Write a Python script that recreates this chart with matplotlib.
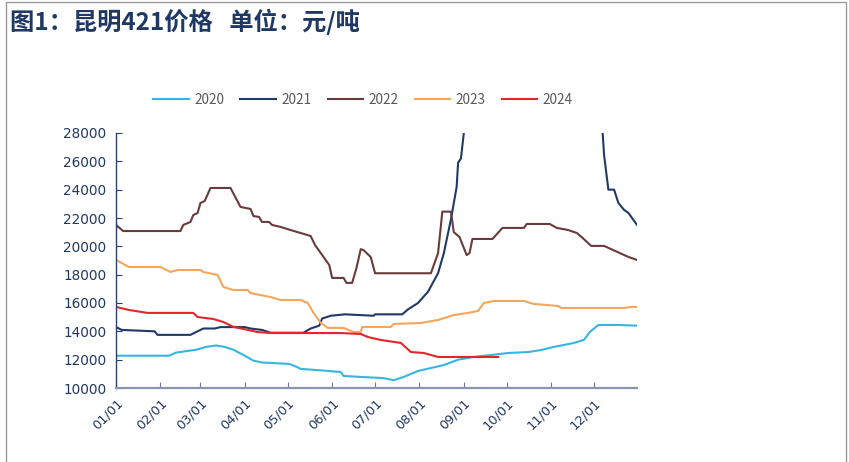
import matplotlib
matplotlib.use("Agg")
import matplotlib.pyplot as plt
import pandas as pd
from matplotlib.patches import Rectangle

plt.rcParams['font.family'] = ['Noto Sans CJK SC', 'DejaVu Sans']

TITLE = "图1：昆明421价格   单位：元/吨"
YEARS = ["2020", "2021", "2022", "2023", "2024"]
COLORS = ["#35B6E3", "#1F3A68", "#6B3A3A", "#F5A65B", "#E4262C"]

d2020 = ["01-01", "02-07", "02-12", "02-19", "02-26", "03-05", "03-12", "03-18", "03-24", "03-31",
         "04-07", "04-13", "05-02", "05-07", "05-10", "05-21", "06-07", "06-09", "06-21", "07-07",
         "07-14", "07-21", "07-31", "08-09", "08-18", "08-28", "09-08", "09-20", "10-02", "10-16",
         "10-25", "11-03", "11-17", "11-24", "11-28", "12-04", "12-18", "12-31"]
v2020 = [12280, 12280, 12500, 12600, 12700, 12900, 13000, 12900, 12700, 12330,
         11930, 11800, 11700, 11500, 11350, 11270, 11130, 10850, 10780, 10700,
         10550, 10780, 11200, 11410, 11620, 12000, 12190, 12330, 12470, 12540,
         12680, 12900, 13180, 13400, 13950, 14450, 14450, 14400]

d2021 = ["01-01", "01-05", "01-28", "01-30", "02-22", "02-25", "03-03", "03-11", "03-15", "04-01",
         "04-05", "04-13", "04-19", "05-12", "05-17", "05-23", "05-25", "05-31", "06-10", "06-30",
         "07-01", "07-20", "07-24", "07-31", "08-07", "08-14", "08-18", "08-23", "08-27", "08-28",
         "08-30", "09-01", "09-08", "09-15", "09-22", "09-28", "10-15", "10-25", "11-05", "11-20",
         "12-07", "12-08", "12-11", "12-15", "12-18", "12-22", "12-25", "12-31"]
v2021 = [14300, 14100, 14000, 13750, 13750, 13900, 14200, 14200, 14300, 14300,
         14200, 14100, 13900, 13900, 14200, 14400, 14900, 15100, 15200, 15100,
         15200, 15200, 15550, 16000, 16800, 18100, 19500, 21900, 24200, 25900,
         26200, 28000, 33000, 40000, 55000, 63000, 62000, 55000, 45000, 34000,
         28000, 26450, 24000, 24000, 23060, 22570, 22360, 21510]

d2022 = ["01-01", "01-06", "02-15", "02-17", "02-22", "02-24", "02-27", "03-01", "03-04", "03-08",
         "03-22", "03-29", "04-05", "04-07", "04-11", "04-13", "04-18", "04-20", "04-26", "05-03",
         "05-10", "05-17", "05-20", "05-26", "05-30", "06-01", "06-09", "06-11", "06-15", "06-18",
         "06-21", "06-23", "06-28", "07-01", "08-09", "08-14", "08-17", "08-23", "08-25", "08-29",
         "09-03", "09-05", "09-07", "09-21", "09-28", "10-13", "10-15", "10-31", "11-05", "11-13",
         "11-19", "11-23", "11-29", "12-08", "12-13", "12-25", "12-31"]
v2022 = [21510, 21080, 21080, 21510, 21720, 22210, 22350, 23060, 23200, 24120,
         24120, 22780, 22640, 22140, 22070, 21720, 21720, 21510, 21370, 21150,
         20940, 20730, 20100, 19250, 18680, 17770, 17770, 17420, 17420, 18470,
         19800, 19730, 19240, 18100, 18100, 19520, 22450, 22450, 21000, 20660,
         19380, 19520, 20520, 20520, 21300, 21300, 21580, 21580, 21300, 21150,
         20940, 20590, 20030, 20030, 19800, 19250, 19040]

d2023 = ["01-01", "01-10", "02-01", "02-08", "02-13", "03-01", "03-03", "03-13", "03-17", "03-24",
         "04-03", "04-05", "04-12", "04-19", "04-26", "05-10", "05-15", "05-19", "05-24", "05-29",
         "06-09", "06-16", "06-21", "06-22", "07-12", "07-14", "08-02", "08-14", "08-25", "09-04",
         "09-11", "09-15", "09-22", "10-13", "10-20", "11-06", "11-08", "12-22", "12-27", "12-31"]
v2023 = [19040, 18540, 18540, 18190, 18330, 18330, 18190, 17980, 17130, 16920,
         16920, 16700, 16560, 16420, 16210, 16210, 16000, 15300, 14600, 14240,
         14240, 13950, 13950, 14310, 14310, 14520, 14590, 14800, 15150, 15300,
         15440, 16000, 16140, 16140, 15930, 15790, 15650, 15650, 15720, 15720]

d2024 = ["01-01", "01-10", "01-23", "02-24", "02-27", "03-10", "03-17", "03-24", "03-31", "04-10",
         "04-19", "06-07", "06-21", "06-26", "07-05", "07-19", "07-26", "08-04", "08-14", "09-25"]
v2024 = [15720, 15510, 15300, 15300, 15010, 14870, 14660, 14310, 14170, 13950,
         13880, 13880, 13810, 13600, 13390, 13180, 12540, 12470, 12190, 12190]

YTICKS = [10000, 12000, 14000, 16000, 18000, 20000, 22000, 24000, 26000, 28000]
XTICK_LABELS = ["01/01", "02/01", "03/01", "04/01", "05/01", "06/01",
                "07/01", "08/01", "09/01", "10/01", "11/01", "12/01"]

BASE = "2021-"
def to_dt(ds):
    return pd.to_datetime([BASE + d for d in ds])

series = [(d2020, v2020), (d2021, v2021), (d2022, v2022), (d2023, v2023), (d2024, v2024)]

fig = plt.figure(figsize=(8.49, 4.62), dpi=100)
fig.patch.set_facecolor("white")
fig.patches.append(Rectangle((6/849, -0.01), (846-6)/849, 1 - 1.5/462 + 0.01, transform=fig.transFigure,
                             fill=False, edgecolor="#9A9A9A", linewidth=1.0))

ax = fig.add_axes([116/849, 1 - 388/462, (637-116)/849, (388-133)/462])
for (ds, vs), yr, c in zip(series, YEARS, COLORS):
    ax.plot(to_dt(ds), vs, color=c, linewidth=1.5, label=yr)

ax.set_ylim(10000, 28000)
ax.set_yticks(YTICKS)
ax.set_yticklabels([str(v) for v in YTICKS], family="DejaVu Sans")
ax.set_xlim(pd.Timestamp("2021-01-01"), pd.Timestamp("2021-12-31"))
xt = pd.to_datetime([BASE + s.replace("/", "-") for s in XTICK_LABELS])
ax.set_xticks(xt)
ax.set_xticklabels(XTICK_LABELS, rotation=45, ha="right", rotation_mode="anchor", family="DejaVu Sans")

for s in ["top", "right"]:
    ax.spines[s].set_visible(False)
ax.spines["left"].set_color("#2B3F6B")
ax.spines["bottom"].set_color("#8A96B0")
ax.spines["left"].set_linewidth(1.0)
ax.spines["bottom"].set_linewidth(1.6)
ax.tick_params(axis="y", direction="in", length=4, color="#2B3F6B", labelcolor="#1F3864",
               labelsize=9.8, pad=7)
ax.tick_params(axis="x", direction="in", length=4, color="#6C7A96", labelcolor="#1F3864",
               labelsize=9.3, pad=6)

fig.text(10/849, 1 - 22/462, TITLE, fontsize=17.5, fontweight="bold", color="#1F3864",
         ha="left", va="center")

leg = ax.legend(loc="center", bbox_to_anchor=(363/849, 1 - 100/462), bbox_transform=fig.transFigure,
                ncol=5, frameon=False, fontsize=9.8, handlelength=2.6, columnspacing=1.2,
                handletextpad=0.4)
for t in leg.get_texts():
    t.set_color("#595959")

fig.savefig("out.png", dpi=100, facecolor="white")
